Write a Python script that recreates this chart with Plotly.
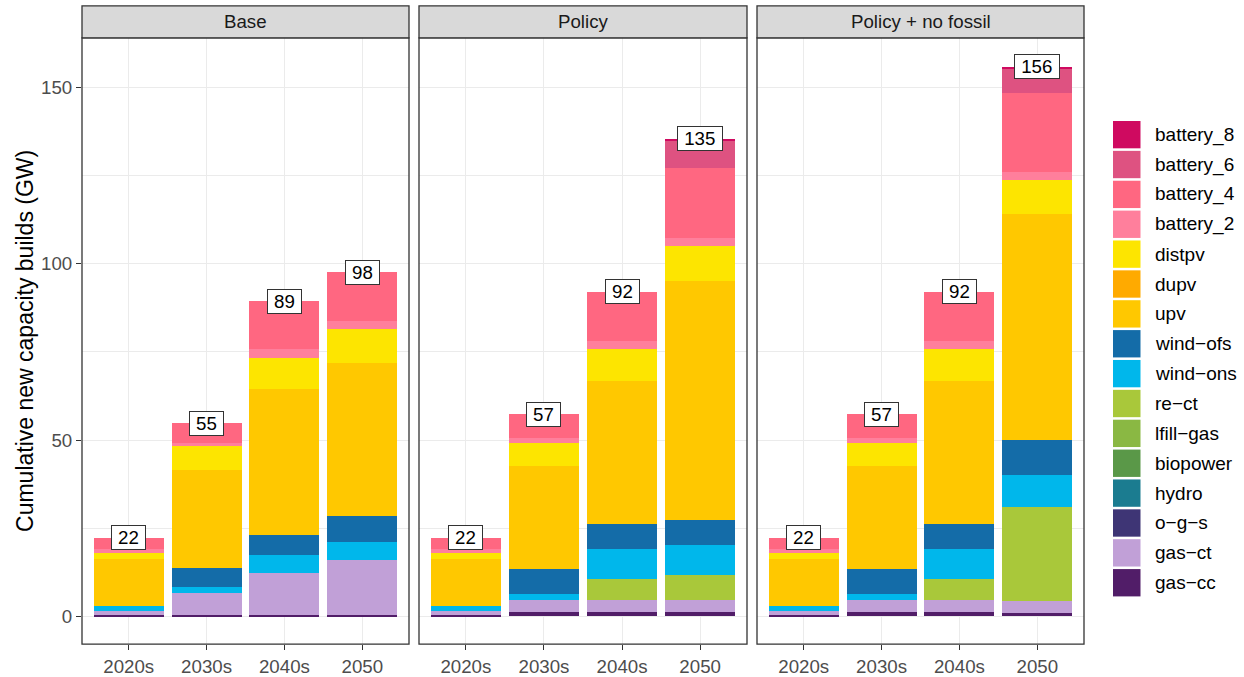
import plotly.graph_objects as go

# ---- data -------------------------------------------------------------
PERIODS = ["2020s", "2030s", "2040s", "2050"]
SCENARIOS = ["Base", "Policy", "Policy + no fossil"]

# stacking order, bottom to top
TECHS = ["gas-cc", "gas-ct", "o-g-s", "hydro", "biopower", "lfill-gas", "re-ct",
         "wind-ons", "wind-ofs", "upv", "dupv", "distpv",
         "battery_2", "battery_4", "battery_6", "battery_8"]

TECH_COLORS = {
    "battery_8": "#CF0A60",
    "battery_6": "#DE5281",
    "battery_4": "#FF6781",
    "battery_2": "#FF7F9C",
    "distpv": "#FDE500",
    "dupv": "#FFAA00",
    "upv": "#FFC800",
    "wind-ofs": "#146CA8",
    "wind-ons": "#00B7EB",
    "re-ct": "#A9C83A",
    "lfill-gas": "#8AB843",
    "biopower": "#5A9848",
    "hydro": "#1B7C90",
    "o-g-s": "#3E3575",
    "gas-ct": "#C1A0D7",
    "gas-cc": "#511D68",
}

# cumulative new capacity (GW) per technology, one value per period
BASE = {
    "gas-cc":    [0.5, 0.5, 0.5, 0.5],
    "gas-ct":    [1.0, 6.1, 11.8, 15.4],
    "wind-ons":  [1.3, 1.7, 5.1, 5.2],
    "wind-ofs":  [0.0, 5.5, 5.8, 7.3],
    "upv":       [13.4, 27.6, 41.2, 43.4],
    "distpv":    [1.9, 6.8, 9.0, 9.7],
    "battery_2": [0.9, 1.0, 2.3, 2.2],
    "battery_4": [3.3, 5.5, 13.6, 13.9],
}
POLICY = {
    "gas-cc":    [0.5, 1.1, 1.1, 1.1],
    "gas-ct":    [1.0, 3.5, 3.5, 3.5],
    "re-ct":     [0.0, 0.0, 6.0, 7.0],
    "wind-ons":  [1.3, 1.6, 8.6, 8.5],
    "wind-ofs":  [0.0, 7.3, 7.1, 7.3],
    "upv":       [13.4, 29.1, 40.4, 67.7],
    "distpv":    [1.9, 6.6, 9.1, 9.9],
    "battery_2": [0.9, 1.3, 2.4, 2.4],
    "battery_4": [3.3, 6.8, 13.9, 19.7],
    "battery_6": [0.0, 0.0, 0.0, 8.0],
    "battery_8": [0.0, 0.0, 0.0, 0.3],
}
NO_FOSSIL = {
    "gas-cc":    [0.5, 1.1, 1.1, 1.0],
    "gas-ct":    [1.0, 3.5, 3.5, 3.4],
    "re-ct":     [0.0, 0.0, 6.0, 26.6],
    "wind-ons":  [1.3, 1.6, 8.6, 9.0],
    "wind-ofs":  [0.0, 7.3, 7.1, 10.0],
    "upv":       [13.4, 29.1, 40.4, 64.1],
    "distpv":    [1.9, 6.6, 9.1, 9.7],
    "battery_2": [0.9, 1.3, 2.4, 2.1],
    "battery_4": [3.3, 6.8, 13.9, 22.6],
    "battery_6": [0.0, 0.0, 0.0, 7.0],
    "battery_8": [0.0, 0.0, 0.0, 0.4],
}
SCENARIO_DATA = [BASE, POLICY, NO_FOSSIL]

Y_TICKS = [0, 50, 100, 150]
Y_TITLE = "Cumulative new capacity builds (GW)"

# ---- layout geometry (pixels) -----------------------------------------
W, H = 1244, 677
FONT = "Liberation Sans, Arial, sans-serif"
PANELS = [(82, 409), (419, 747), (757, 1084)]
PANEL_TOP, PANEL_BOTTOM = 38, 648
STRIP_TOP = 6
Y_RANGE = [-7.9, 164.1]
GRID = "#EBEBEB"
FRAME = "#333333"
SMALL = 18.7


def px_x(x):
    return x / W


def px_y(y):
    return 1 - y / H


fig = go.Figure()
shapes, annotations = [], []

for k, (name, data) in enumerate(zip(SCENARIOS, SCENARIO_DATA)):
    sfx = "" if k == 0 else str(k + 1)
    xa, ya = "x" + sfx, "y" + sfx
    for tech in TECHS:
        vals = data.get(tech, [0.0] * len(PERIODS))
        fig.add_trace(go.Bar(
            x=PERIODS, y=vals, name=tech, width=0.9,
            marker=dict(color=TECH_COLORS[tech], line=dict(width=0)),
            xaxis=xa, yaxis=ya, showlegend=False,
            hovertemplate=tech + ": %{y:.1f} GW<extra>" + name + "</extra>",
        ))

    # totals printed on top of each stack (x given as category index)
    for i, period in enumerate(PERIODS):
        total = sum(v[i] for v in data.values())
        label = str(int(round(total)))
        annotations.append(dict(
            x=i, y=total, xref=xa, yref=ya, text=label, showarrow=False,
            font=dict(family=FONT, size=SMALL, color="black"),
            bgcolor="white", bordercolor=FRAME, borderwidth=1, borderpad=2,
            width=10.5 * len(label) + 8, height=19,
            xanchor="center", yanchor="middle",
        ))

    x0, x1 = PANELS[k]
    dom = [px_x(x0), px_x(x1)]
    fig.layout["xaxis" + sfx] = dict(
        domain=dom, anchor=ya, type="category", categoryorder="array",
        categoryarray=PERIODS, range=[-0.6, len(PERIODS) - 0.4],
        showgrid=True, gridcolor=GRID, gridwidth=1.1, zeroline=False,
        ticks="outside", ticklen=5, tickwidth=1.1, tickcolor=FRAME,
        tickfont=dict(family=FONT, size=SMALL, color="#4D4D4D"),
        showline=False, fixedrange=True,
    )
    fig.layout["yaxis" + sfx] = dict(
        domain=[px_y(PANEL_BOTTOM), px_y(PANEL_TOP)], anchor=xa,
        range=Y_RANGE, tickmode="array", tickvals=Y_TICKS,
        showgrid=True, gridcolor=GRID, gridwidth=1.1, zeroline=False,
        minor=dict(tickmode="linear", tick0=0, dtick=25, showgrid=True,
                   gridcolor=GRID, gridwidth=0.55, ticks=""),
        ticks="outside" if k == 0 else "", ticklen=5, tickwidth=1.1,
        tickcolor=FRAME, showticklabels=(k == 0),
        tickfont=dict(family=FONT, size=SMALL, color="#4D4D4D"),
        showline=False, fixedrange=True,
        matches=None if k == 0 else "y",
    )

    # panel frame
    shapes.append(dict(type="rect", xref="paper", yref="paper",
                       x0=dom[0], x1=dom[1], y0=px_y(PANEL_BOTTOM), y1=px_y(PANEL_TOP),
                       line=dict(color=FRAME, width=1.3), fillcolor="rgba(0,0,0,0)",
                       layer="above"))
    # facet strip
    shapes.append(dict(type="rect", xref="paper", yref="paper",
                       x0=dom[0], x1=dom[1], y0=px_y(PANEL_TOP), y1=px_y(STRIP_TOP),
                       line=dict(color=FRAME, width=1.3), fillcolor="#D9D9D9",
                       layer="above"))
    annotations.append(dict(
        x=(dom[0] + dom[1]) / 2, y=px_y((STRIP_TOP + PANEL_TOP) / 2),
        xref="paper", yref="paper", text=name, showarrow=False,
        font=dict(family=FONT, size=SMALL, color="#1A1A1A"),
        xanchor="center", yanchor="middle",
    ))

# y-axis title
annotations.append(dict(
    x=px_x(25), y=px_y((PANEL_TOP + PANEL_BOTTOM) / 2), xref="paper", yref="paper",
    text=Y_TITLE, showarrow=False, textangle=-90,
    font=dict(family=FONT, size=23, color="black"),
    xanchor="center", yanchor="middle",
))

# legend: keys listed from the top of the stack downwards
KEY_LEFT, KEY_SIZE, ROW_H, FIRST_TOP, LABEL_LEFT = 1113, 27.5, 30.05, 121.7, 1153
for i, tech in enumerate(reversed(TECHS)):
    top = FIRST_TOP + i * ROW_H
    shapes.append(dict(type="rect", xref="paper", yref="paper",
                       x0=px_x(KEY_LEFT), x1=px_x(KEY_LEFT + KEY_SIZE),
                       y0=px_y(top + KEY_SIZE), y1=px_y(top),
                       line=dict(width=0), fillcolor=TECH_COLORS[tech]))
    annotations.append(dict(
        x=px_x(LABEL_LEFT), y=px_y(top + KEY_SIZE / 2), xref="paper", yref="paper",
        text=tech.replace("-", "\u2212"), showarrow=False,
        font=dict(family=FONT, size=19, color="black"),
        xanchor="left", yanchor="middle",
    ))

fig.update_layout(
    width=W, height=H, barmode="stack",
    margin=dict(l=0, r=0, t=0, b=0),
    paper_bgcolor="white", plot_bgcolor="white",
    shapes=shapes, annotations=annotations,
    showlegend=False,
)

fig.write_html("out.html")
